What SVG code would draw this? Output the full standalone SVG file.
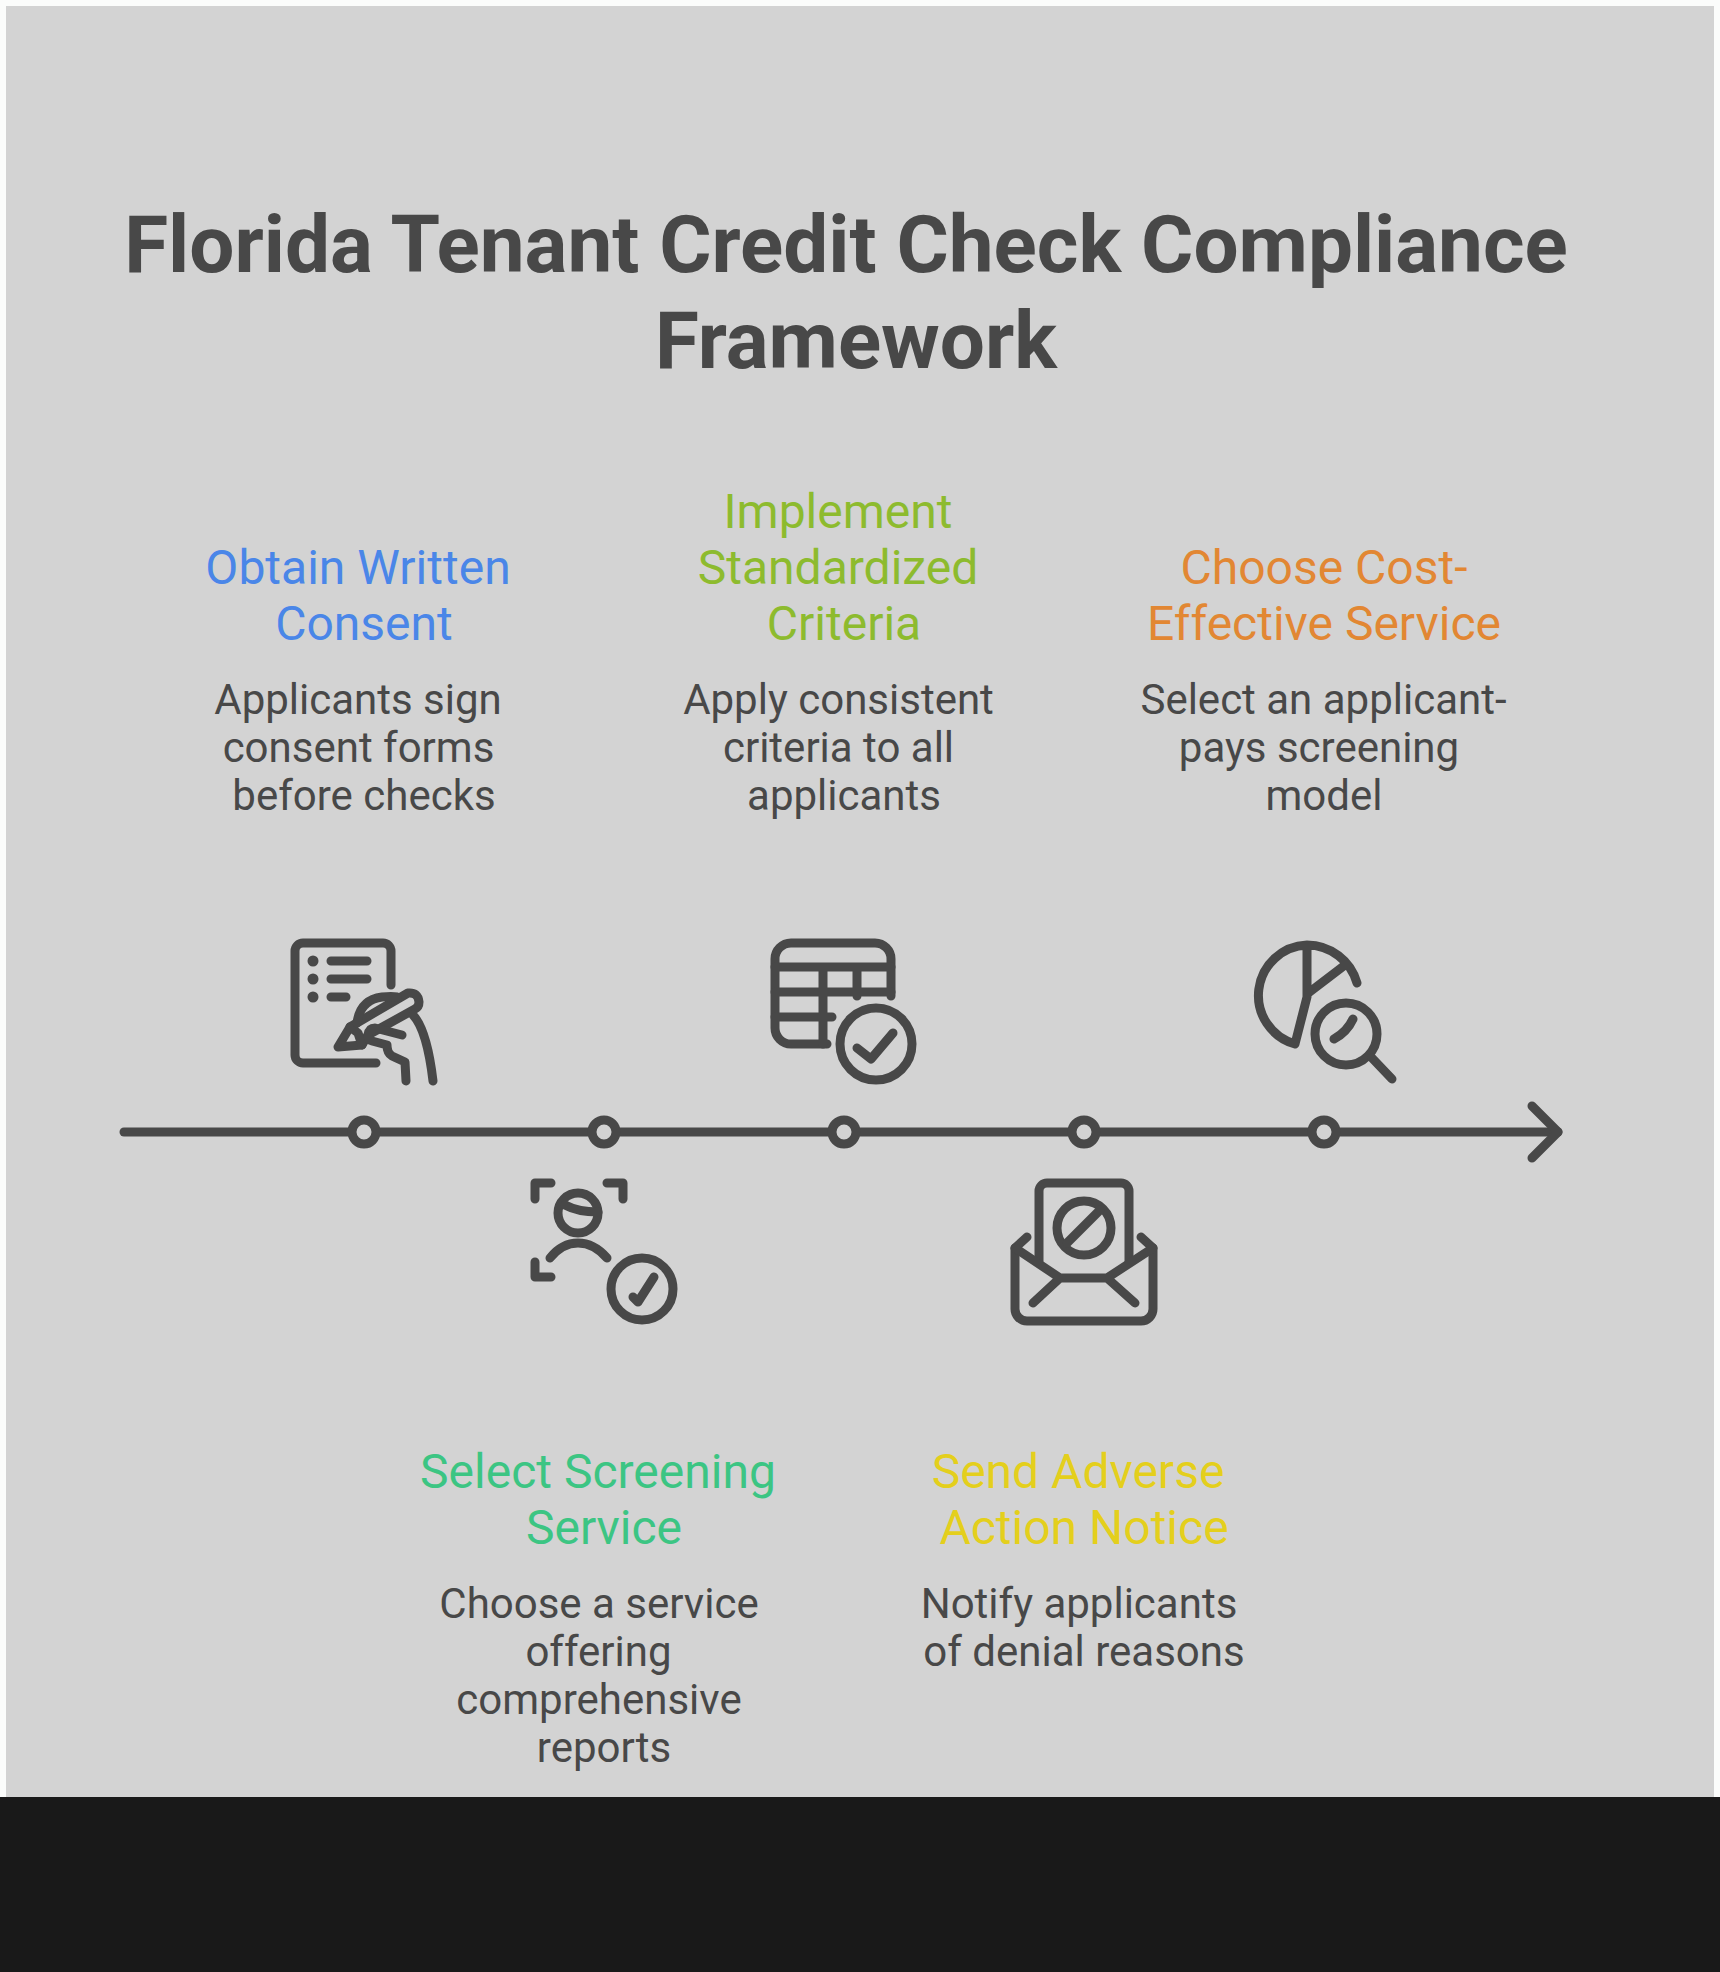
<svg xmlns="http://www.w3.org/2000/svg" width="1720" height="1972" viewBox="0 0 1720 1972">
<style>
text{font-family:Roboto,"Liberation Sans",sans-serif;text-anchor:middle}
.t{font-size:80px;font-weight:700;fill:#484848}
.h{font-size:48px}
.b{font-size:42px;fill:#484848}
.s{fill:none;stroke:#484848;stroke-width:9;stroke-linecap:round;stroke-linejoin:round}
.d{fill:#d3d3d3}
</style>
<rect width="1720" height="1972" fill="#fbfcfb"/>
<rect x="6" y="6" width="1708" height="1791" fill="#d3d3d3"/>
<rect x="0" y="1797" width="1720" height="175" fill="#191919"/>
<g id="title"><text class="t" x="846" y="272">Florida Tenant Credit Check Compliance</text><text class="t" x="856" y="368">Framework</text></g>
<g id="connectors" class="s">
<path d="M124 1132H1558"/>
<path d="M1532 1106L1558 1132L1532 1158"/>
<circle class="d" cx="364" cy="1132" r="12"/><circle class="d" cx="604" cy="1132" r="12"/><circle class="d" cx="844" cy="1132" r="12"/><circle class="d" cx="1084" cy="1132" r="12"/><circle class="d" cx="1324" cy="1132" r="12"/>
</g>
<g id="node1">
<text class="h" fill="#4a86e8" x="358" y="584">Obtain Written</text><text class="h" fill="#4a86e8" x="364" y="640">Consent</text>
<text class="b" x="358" y="714">Applicants sign</text><text class="b" x="358.500" y="762">consent forms</text><text class="b" x="364" y="810">before checks</text>
<g class="s"><path d="M391 985V951a8 8 0 0 0-8-8H303a8 8 0 0 0-8 8V1055a8 8 0 0 0 8 8H376"/>
<path d="M331 961H367M331 979H367M331 997H346"/>
<path d="M338 1047L350 1027L408 993Q418 992 419 1002Q419 1007 415 1009L368 1035L362 1045Z"/>
<path d="M350 1027L358 1033L362 1045"/>
<path d="M357 1023Q360 1000 382 997Q392 996 397 997"/>
<path d="M368 1035Q369 1028 375 1028L402 1035M368 1035Q368 1040 372 1041L387 1045Q387 1053 392 1056L405 1062L406 1081M413 1015Q427 1030 433 1081"/></g>
<g fill="#484848"><circle cx="313" cy="961" r="5.5"/><circle cx="313" cy="979" r="5.5"/><circle cx="313" cy="997" r="5.5"/></g>
</g>
<g id="node2">
<text class="h" fill="#3cc583" x="598" y="1488">Select Screening</text><text class="h" fill="#3cc583" x="604" y="1544">Service</text>
<text class="b" x="599" y="1618">Choose a service</text><text class="b" x="598.500" y="1666">offering</text><text class="b" x="599" y="1714">comprehensive</text><text class="b" x="604" y="1762">reports</text>
<g class="s"><path d="M535 1199V1183H551M607 1183H623V1199M535 1262V1277H551"/>
<circle cx="578" cy="1213" r="20"/><path d="M565 1205Q578 1212 598 1212"/>
<path d="M550 1258Q562 1243 578 1243Q594 1243 607 1258"/>
<circle cx="642" cy="1289" r="31"/><path d="M633 1297L638 1302L654 1277"/></g>
</g>
<g id="node3">
<text class="h" fill="#8dbb2e" x="838" y="528">Implement</text><text class="h" fill="#8dbb2e" x="838" y="584">Standardized</text><text class="h" fill="#8dbb2e" x="844" y="640">Criteria</text>
<text class="b" x="838.500" y="714">Apply consistent</text><text class="b" x="838.500" y="762">criteria to all</text><text class="b" x="844" y="810">applicants</text>
<g class="s"><path d="M891 996V959a16 16 0 0 0-16-16H791a16 16 0 0 0-16 16V1028a16 16 0 0 0 16 16H827"/>
<path d="M775 967H891M775 992H891M775 1017H832M823 967V1044M857 967V996"/>
<circle cx="876" cy="1044" r="36"/><path d="M857 1048L871 1059L893 1033"/></g>
</g>
<g id="node4">
<text class="h" fill="#e4cf1c" x="1078" y="1488">Send Adverse</text><text class="h" fill="#e4cf1c" x="1084" y="1544">Action Notice</text>
<text class="b" x="1079" y="1618">Notify applicants</text><text class="b" x="1084" y="1666">of denial reasons</text>
<g class="s"><path d="M1039 1261V1191a8 8 0 0 1 8-8H1121a8 8 0 0 1 8 8V1261"/>
<circle cx="1084" cy="1228" r="27"/><path d="M1067 1243L1100 1210"/>
<path d="M1027 1237L1015 1248V1309a12 12 0 0 0 12 12H1141a12 12 0 0 0 12-12V1248L1141 1237"/>
<path d="M1015 1248L1060 1278H1107L1153 1248M1060 1278L1033 1303M1107 1278L1135 1303"/></g>
</g>
<g id="node5">
<text class="h" fill="#e28733" x="1324" y="584">Choose Cost-</text><text class="h" fill="#e28733" x="1324" y="640">Effective Service</text>
<text class="b" x="1323.500" y="714">Select an applicant-</text><text class="b" x="1319" y="762">pays screening</text><text class="b" x="1324" y="810">model</text>
<g class="s"><path d="M1357 983A52 52 0 0 0 1307 945A50.500 50.500 0 0 0 1295 1044L1307 997V945M1307 994L1345 965"/>
<circle cx="1346" cy="1034" r="31"/><path d="M1334 1039Q1347 1032 1353 1019M1372 1058L1392 1079"/></g>
</g>
</svg>
